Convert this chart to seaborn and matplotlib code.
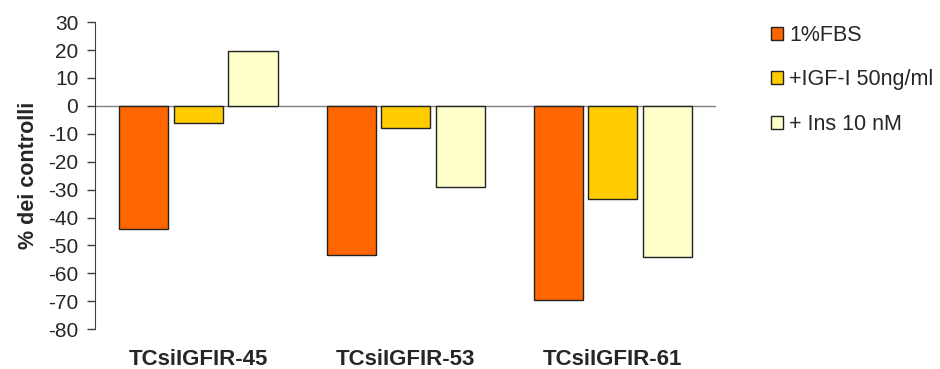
import pandas as pd
import seaborn as sns
import matplotlib.pyplot as plt

# values
groups = ['TCsiIGFIR-45', 'TCsiIGFIR-53', 'TCsiIGFIR-61']
treatments = ['1%FBS', '+IGF-I 50ng/ml', '+ Ins 10 nM']
fbs = [-44.0, -53.5, -69.5]
igf = [-6.0, -8.0, -33.5]
ins = [19.5, -29.0, -54.3]
colors = ['#FF6600', '#FFCC00', '#FFFFCC']

df = pd.DataFrame({
    'group': groups * 3,
    'treatment': [t for t in treatments for _ in groups],
    'value': fbs + igf + ins,
})

sns.set_style('white')
plt.rcParams['font.family'] = ['Liberation Sans', 'DejaVu Sans']
plt.rcParams['axes.unicode_minus'] = False

fig = plt.figure(figsize=(9.4, 3.69), dpi=100)
ax = fig.add_axes([0.101, 0.108, 0.661, 0.832])

sns.barplot(data=df, x='group', y='value', hue='treatment', order=groups,
            hue_order=treatments, palette=colors, width=0.79, gap=0.1,
            edgecolor='#222222', linewidth=1.0, saturation=1, ax=ax)

ax.axhline(0, color='#808080', lw=1, zorder=0)
ax.set_ylim(-80, 30)
ax.set_yticks(range(-80, 31, 10))
ax.set_xlim(-0.5, 2.5)

for s in ['top', 'right', 'bottom']:
    ax.spines[s].set_visible(False)
ax.spines['left'].set_color('#404040')
ax.tick_params(axis='y', direction='out', length=6, width=1, color='#404040',
               labelsize=15, left=True, pad=6)
ax.tick_params(axis='x', length=0, labelsize=16, pad=14)
for lab in ax.get_xticklabels():
    lab.set_fontweight('bold')

ax.set_xlabel('')
ax.set_ylabel('% dei controlli', fontsize=15.5, fontweight='bold')
ax.yaxis.set_label_coords(-0.09, 0.5)

ax.legend(loc='upper left', bbox_to_anchor=(0.82, 0.933),
          bbox_transform=fig.transFigure, frameon=False,
          fontsize=15.5, handlelength=0.56, handleheight=0.56,
          handletextpad=0.3, labelspacing=1.1, borderpad=0,
          borderaxespad=0)

fig.savefig('out.png', dpi=100)
